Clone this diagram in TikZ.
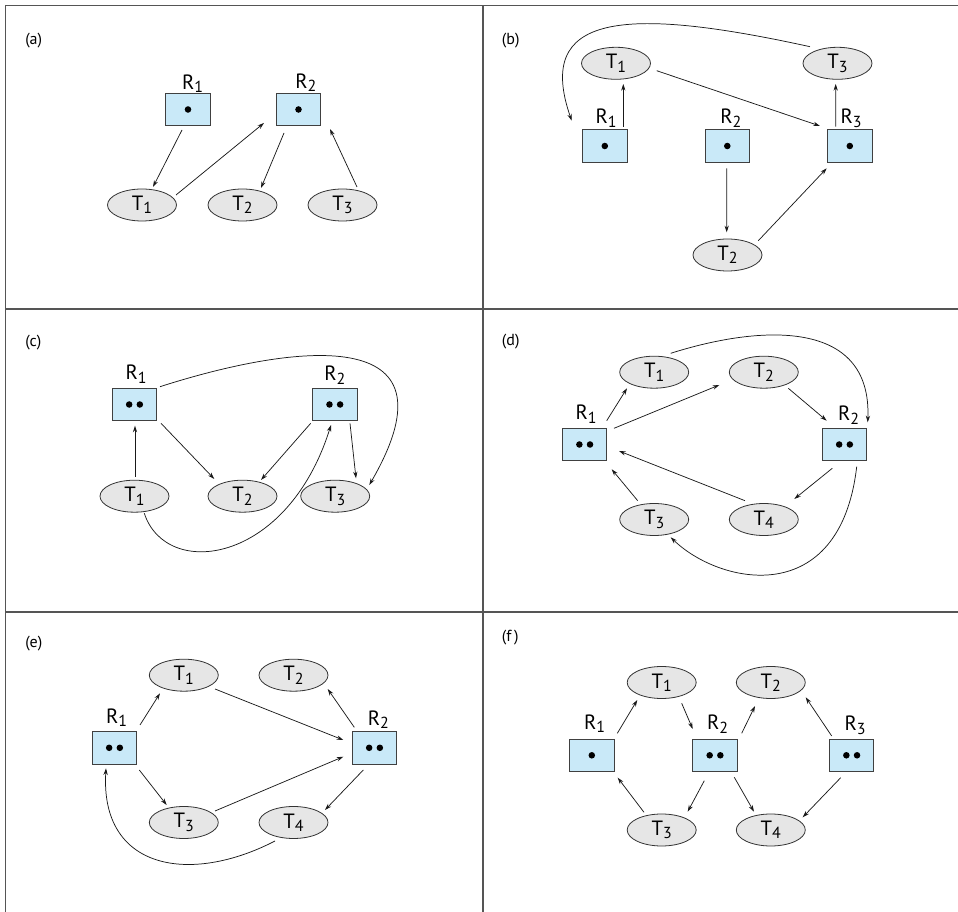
\documentclass[tikz,border=0pt]{standalone}
\usepackage{fontspec}
\setmainfont{PT Sans}
\usetikzlibrary{arrows.meta,calc,shapes.geometric}
\definecolor{resblue}{HTML}{C9E9F8}
\definecolor{txgray}{HTML}{E6E6E6}
\definecolor{framegray}{HTML}{555555}
\newcommand{\tfont}{\fontsize{15.5}{18}\selectfont}
\newcommand{\lfont}{\fontsize{12}{14}\selectfont}
\newcommand{\sbs}[1]{\raisebox{-2.5pt}{\fontsize{12}{12}\selectfont #1}}
\newcommand{\conn}[4]{\draw[arr] ($(#1)+(#2)$) -- ($(#3)+(#4)$);}
\tikzset{
  res/.style={draw=black!75, line width=0.75pt, fill=resblue, minimum width=33.4pt, minimum height=24.4pt, inner sep=0pt},
  tx/.style={ellipse, draw=black!80, line width=0.6pt, fill=txgray, minimum width=51.75pt, minimum height=24pt, inner sep=0pt, font=\tfont},
  rlab/.style={anchor=base, inner sep=0pt, font=\tfont},
  plab/.style={anchor=west, inner sep=0pt, font=\lfont},
  one/.style={path picture={\fill[black] (path picture bounding box.center) circle (2.45pt);}},
  two/.style={path picture={\fill[black] ($(path picture bounding box.center)+(-4pt,0pt)$) circle (2.45pt) ($(path picture bounding box.center)+(4pt,0pt)$) circle (2.45pt);}},
  arr/.style={-{Stealth[length=5pt,width=3.2pt]}, line width=0.55pt, draw=black!90},
  frame/.style={draw=framegray, line width=0.9pt},
}
\begin{document}
\begin{tikzpicture}[x=0.75pt,y=-0.75pt]
\useasboundingbox (0,0) rectangle (958,912);
% frame
\draw[frame] (5.5,5.5) -- (958,5.5);
\draw[frame] (5.5,5) -- (5.5,912);
\draw[frame] (483,5.5) -- (483,912);
\draw[frame] (5.5,309) -- (958,309);
\draw[frame] (5.5,612) -- (958,612);

% ---------- (a)
\node[plab] (la) at (25,41) {(a)};
\node[res,one] (aR1) at (188,109.5) {};
\node[res,one] (aR2) at (298.5,109.5) {};
\node[rlab] (aR1l) at (188.3,89.3) {R\rlap{\sbs{1}}};
\node[rlab] (aR2l) at (301.5,88.5) {R\rlap{\sbs{2}}};
\node[tx] (aT1) at (142,205) {T\sbs{1}};
\node[tx] (aT2) at (242.5,205) {T\sbs{2}};
\node[tx] (aT3) at (342.5,205) {T\sbs{3}};
\conn{aR1}{-6,20.5}{aT1}{11,-18}
\conn{aT1}{34,-10}{aR2}{-34.5,13.5}
\conn{aR2}{-14.5,23.5}{aT2}{18.5,-17}
\conn{aT3}{14.5,-18}{aR2}{31.5,19.5}

% ---------- (b)
\node[plab] (lb) at (501.7,41) {(b)};
\node[tx] (bT1) at (616,63.3) {T\sbs{1}};
\node[tx] (bT3) at (837.5,63.3) {T\sbs{3}};
\node[res,one] (bR1) at (604.8,146) {};
\node[res,one] (bR2) at (727.3,146) {};
\node[res,one] (bR3) at (849.8,146) {};
\node[rlab] (bR1l) at (601.8,124) {R\rlap{\sbs{1}}};
\node[rlab] (bR2l) at (726.5,124) {R\rlap{\sbs{2}}};
\node[rlab] (bR3l) at (846.7,124) {R\rlap{\sbs{3}}};
\node[tx] (bT2) at (727.5,255) {T\sbs{2}};
\conn{bR1}{18.5,-19.3}{bT1}{7.3,20.7}
\conn{bT1}{40.7,7.4}{bR3}{-29.8,-20}
\conn{bR3}{-14.1,-19.3}{bT3}{-1.8,20.7}
\draw[arr] ($(bT3)+(-27.5,-16.6)$) .. controls (620,5) and (535,15) .. ($(bR1)+(-33.1,-25.3)$);
\conn{bR2}{-0.6,22.3}{bT2}{-0.8,-22.7}
\conn{bT2}{30.8,-14.3}{bR3}{-23.1,22.3}

% ---------- (c)
\node[plab] (lc) at (25,342.5) {(c)};
\node[res,two] (cR1) at (134.5,404.5) {};
\node[res,two] (cR2) at (334.8,404.5) {};
\node[rlab] (cR1l) at (131.7,380) {R\rlap{\sbs{1}}};
\node[rlab] (cR2l) at (330.5,381) {R\rlap{\sbs{2}}};
\node[tx] (cT1) at (134.5,496.2) {T\sbs{1}};
\node[tx] (cT2) at (242.5,496.2) {T\sbs{2}};
\node[tx] (cT3) at (335.2,496.2) {T\sbs{3}};
\conn{cT1}{0.5,-19.5}{cR1}{0.5,21.2}
\conn{cR1}{26.5,18.8}{cT2}{-28.2,-17.2}
\conn{cR2}{-24.1,18.8}{cT2}{18.5,-16.2}
\conn{cR2}{15.2,18.8}{cT3}{20.8,-17.9}
\draw[arr] ($(cR1)+(25.5,-17.8)$) .. controls (290,345) and (465,320) .. ($(cT3)+(34.1,-11.2)$);
\draw[arr] ($(cT1)+(9.8,17.1)$) .. controls (166,580) and (287,565) .. ($(cR2)+(-3.8,20.5)$);

% ---------- (d)
\node[plab] (ld) at (501.7,342) {(d)};
\node[tx] (dT1) at (654.2,372.2) {T\sbs{1}};
\node[tx] (dT2) at (763.8,372.2) {T\sbs{2}};
\node[res,two] (dR1) at (584.7,444.5) {};
\node[res,two] (dR2) at (844.5,444.5) {};
\node[rlab] (dR1l) at (581.7,420) {R\rlap{\sbs{1}}};
\node[rlab] (dR2l) at (844.2,420.7) {R\rlap{\sbs{2}}};
\node[tx] (dT3) at (654.2,519.5) {T\sbs{3}};
\node[tx] (dT4) at (763.8,519.5) {T\sbs{4}};
\conn{dR1}{22,-23.8}{dT1}{-27.2,16.1}
\conn{dR1}{29.3,-16.2}{dT2}{-44.5,12.8}
\conn{dT2}{24.5,16.1}{dR2}{-17.8,-23.8}
\draw[arr] ($(dT1)+(16.5,-18.9)$) .. controls (760,325) and (872,318) .. ($(dR2)+(23.2,-22.2)$);
\conn{dR2}{-12.2,23.8}{dT4}{30.5,-20.5}
\conn{dT4}{-18.8,-18.8}{dR1}{34.3,6.5}
\conn{dT3}{-16.5,-18.8}{dR1}{27,24.8}
\draw[arr] ($(dR2)+(12.2,22.2)$) .. controls (840,610) and (720,585) .. ($(dT3)+(16.5,17.8)$);

% ---------- (e)
\node[plab] (le) at (25,644) {(e)};
\node[tx] (eT1) at (183.8,675.2) {T\sbs{1}};
\node[tx] (eT2) at (293.5,675.2) {T\sbs{2}};
\node[res,two] (eR1) at (114.5,747.8) {};
\node[res,two] (eR2) at (374.5,747.8) {};
\node[rlab] (eR1l) at (112.2,723.3) {R\rlap{\sbs{1}}};
\node[rlab] (eR2l) at (374,725.5) {R\rlap{\sbs{2}}};
\node[tx] (eT3) at (183.8,822.5) {T\sbs{3}};
\node[tx] (eT4) at (293.5,822.5) {T\sbs{4}};
\conn{eR1}{25.5,-22.8}{eT1}{-23.8,18.1}
\conn{eT1}{31.2,13.8}{eR2}{-31.2,-7.8}
\conn{eR2}{-20.2,-20.5}{eT2}{34.2,13.8}
\conn{eR1}{24.8,22.2}{eT3}{-17.1,-17.5}
\conn{eT3}{31.2,-11.5}{eR2}{-31.2,8.9}
\conn{eR2}{-11.2,22.2}{eT4}{31.5,-12.5}
\draw[arr] ($(eT4)+(-18.5,18.5)$) .. controls (190,885) and (100,870) .. ($(eR1)+(-8.5,20.5)$);

% ---------- (f)
\node[plab] (lf) at (501.7,637.5) {(f\,)};
\node[tx] (fT1) at (661.7,682.5) {T\sbs{1}};
\node[tx] (fT2) at (770.8,682.5) {T\sbs{2}};
\node[res,one] (fR1) at (591.8,755.3) {};
\node[res,two] (fR2) at (715,755.3) {};
\node[res,two] (fR3) at (851.7,755.3) {};
\node[rlab] (fR1l) at (590.2,729.3) {R\rlap{\sbs{1}}};
\node[rlab] (fR2l) at (713.3,730) {R\rlap{\sbs{2}}};
\node[rlab] (fR3l) at (850.8,731) {R\rlap{\sbs{3}}};
\node[tx] (fT3) at (661.7,830) {T\sbs{3}};
\node[tx] (fT4) at (770.8,830) {T\sbs{4}};
\conn{fR1}{25.5,-22}{fT1}{-24.4,17.5}
\conn{fT1}{20,20.8}{fR2}{-22.3,-26.3}
\conn{fR2}{26.7,-22}{fT2}{-15.8,23.5}
\conn{fR3}{-20,-19.3}{fT2}{34.9,14.8}
\conn{fR2}{-10.7,25.4}{fT3}{26,-18.3}
\conn{fT3}{-17.7,-17.7}{fR1}{25.9,22.4}
\conn{fR2}{19.3,22}{fT4}{-16.8,-18.3}
\conn{fR3}{-11,22.4}{fT4}{31.9,-12.7}
\end{tikzpicture}
\end{document}
